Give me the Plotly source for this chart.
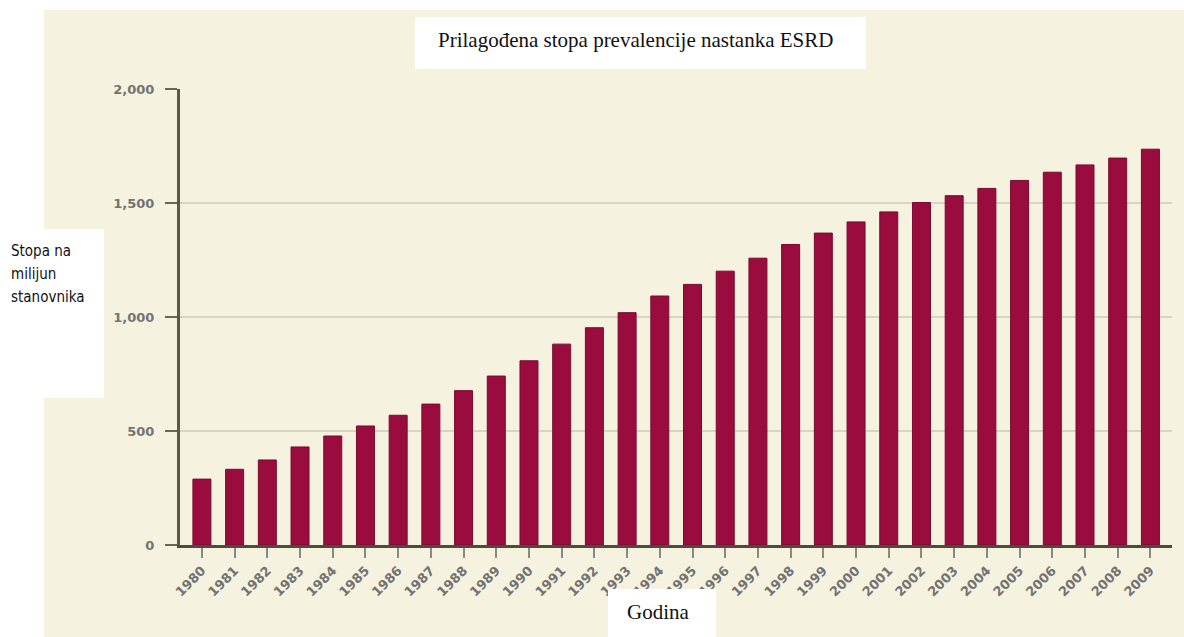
import plotly.graph_objects as go

years = [str(y) for y in range(1980, 2010)]
rates = [289, 332, 373, 430, 478, 522, 569, 618, 677, 741,
         808, 881, 953, 1019, 1092, 1143, 1201, 1258, 1318, 1368,
         1417, 1461, 1502, 1532, 1564, 1599, 1635, 1667, 1697, 1736]
y_ticks = [0, 500, 1000, 1500, 2000]
y_tick_text = ["0", "500", "1,000", "1,500", "2,000"]
title_text = "Prilagođena stopa prevalencije nastanka ESRD"
x_title = "Godina"
y_title_lines = ["Stopa na", "milijun", "stanovnika"]

W, H = 1184, 637
L, R, T, B = 180, 12, 89, 92
PW, PH = W - L - R, H - T - B


def px(x):
    return (x - L) / PW


def py(y):
    return (H - B - y) / PH


CREAM = "#f6f2e0"
BAR = "#990c3d"

fig = go.Figure()
fig.add_trace(go.Bar(
    x=years, y=rates,
    marker=dict(color=BAR, line=dict(color="#7a0a31", width=1)),
))

shapes = [
    dict(type="rect", xref="paper", yref="paper", layer="below",
         x0=px(44), x1=px(1190), y0=py(640), y1=py(10),
         fillcolor=CREAM, line=dict(width=0)),
    dict(type="rect", xref="paper", yref="paper", layer="above",
         x0=px(415), x1=px(866), y0=py(69), y1=py(17),
         fillcolor="white", line=dict(width=0)),
    dict(type="rect", xref="paper", yref="paper", layer="above",
         x0=px(608), x1=px(716), y0=py(640), y1=py(589),
         fillcolor="white", line=dict(width=0)),
    dict(type="rect", xref="paper", yref="paper", layer="above",
         x0=px(-2), x1=px(104), y0=py(398), y1=py(229),
         fillcolor="white", line=dict(width=0)),
]

annotations = [
    dict(text=title_text, xref="paper", yref="paper", x=px(635), y=py(40),
         xanchor="center", yanchor="middle", showarrow=False,
         font=dict(family="Liberation Serif, Times New Roman, serif", size=21, color="#111111")),
    dict(text=x_title, xref="paper", yref="paper", x=px(658), y=py(612),
         xanchor="center", yanchor="middle", showarrow=False,
         font=dict(family="Liberation Serif, Times New Roman, serif", size=21, color="#111111")),
]
for i, line in enumerate(y_title_lines):
    annotations.append(dict(
        text=line, xref="paper", yref="paper", x=px(9), y=py(251 + 23 * i),
        xanchor="left", yanchor="middle", align="left", showarrow=False,
        font=dict(family="DejaVu Sans Condensed, Liberation Sans Narrow, sans-serif",
                  size=15, color="#111111")))

tickfont = dict(family="DejaVu Sans, sans-serif", size=13, color="#727272", weight="bold")

fig.update_layout(
    width=W, height=H,
    margin=dict(l=L, r=R, t=T, b=B, pad=0),
    paper_bgcolor="white", plot_bgcolor=CREAM,
    bargap=0.45, showlegend=False,
    shapes=shapes, annotations=annotations,
    xaxis=dict(
        type="category", range=[-0.67, 29.66],
        showline=True, linecolor="#4e4a3c", linewidth=3,
        ticks="outside", ticklen=10, tickwidth=2, tickcolor="#8a8a80",
        tickangle=-45, showgrid=False, tickfont=tickfont,
    ),
    yaxis=dict(
        range=[0, 2000], tickvals=y_ticks, ticktext=y_tick_text,
        showline=True, linecolor="#5c5746", linewidth=3,
        ticks="outside", ticklen=12, tickwidth=2, tickcolor="#6a6656",
        showgrid=True, gridcolor="#d8d4c2", gridwidth=2,
        zeroline=False, ticklabelstandoff=8, tickfont=tickfont,
    ),
)

fig.write_html(
    "out.html",
    config={"displayModeBar": False},
    post_script="document.body.style.margin='0px';document.body.style.overflow='hidden';",
)
